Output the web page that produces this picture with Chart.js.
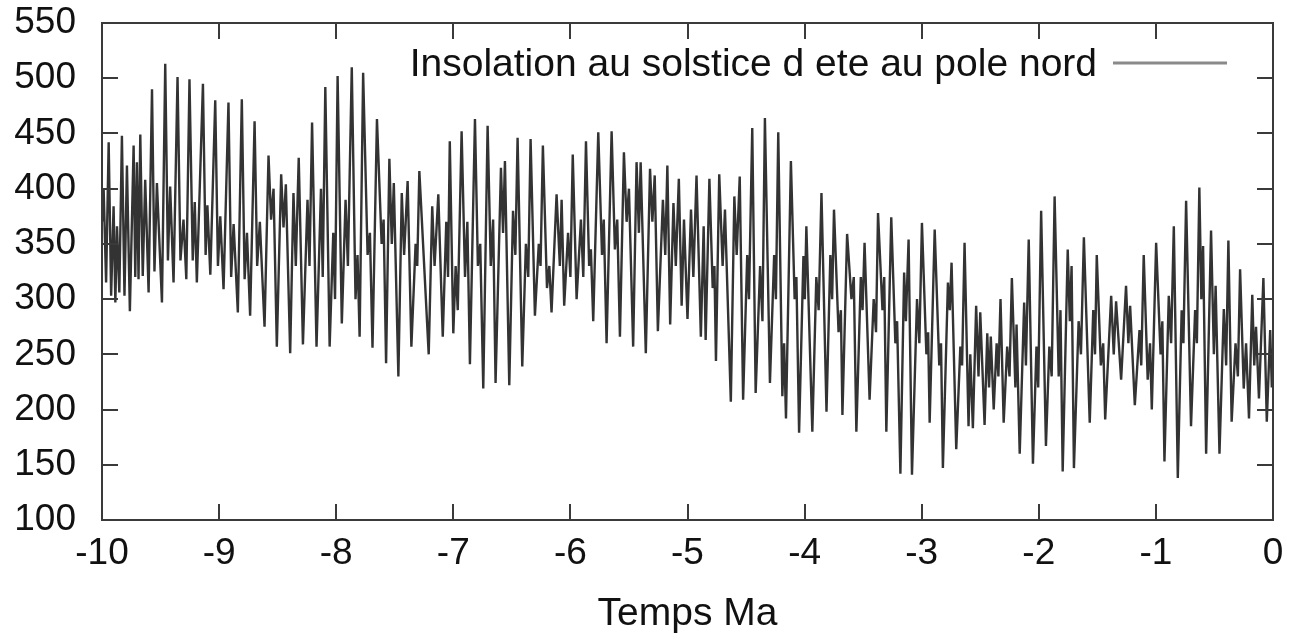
<!DOCTYPE html>
<html>
<head>
<meta charset="utf-8">
<script src="https://cdn.jsdelivr.net/npm/chart.js@4.4.1/dist/chart.umd.min.js"></script>
<style>
  html, body { margin: 0; padding: 0; background: #fff; }
  #wrap { width: 1290px; height: 638px; }
</style>
</head>
<body>
<div id="wrap"><canvas id="insolChart" width="1290" height="638"></canvas></div>
<script>
// time (Ma) and insolation (W/m2)
const times = [
  -10.000, -9.986, -9.965, -9.943, -9.922, -9.901, -9.886, -9.872, -9.852, -9.830,
  -9.808, -9.787, -9.762, -9.730, -9.716, -9.702, -9.688, -9.673, -9.652, -9.631,
  -9.602, -9.573, -9.552, -9.531, -9.488, -9.460, -9.437, -9.418, -9.389, -9.355,
  -9.330, -9.304, -9.280, -9.253, -9.225, -9.208, -9.190, -9.138, -9.115, -9.100,
  -9.075, -9.033, -9.010, -8.990, -8.962, -8.920, -8.897, -8.876, -8.840, -8.806,
  -8.782, -8.762, -8.735, -8.697, -8.675, -8.652, -8.612, -8.578, -8.556, -8.535,
  -8.507, -8.470, -8.450, -8.430, -8.393, -8.365, -8.345, -8.320, -8.284, -8.245,
  -8.228, -8.206, -8.168, -8.130, -8.115, -8.093, -8.056, -8.025, -8.010, -7.988,
  -7.952, -7.920, -7.900, -7.867, -7.835, -7.818, -7.800, -7.770, -7.732, -7.712,
  -7.690, -7.652, -7.612, -7.595, -7.574, -7.546, -7.525, -7.508, -7.469, -7.440,
  -7.420, -7.390, -7.358, -7.322, -7.308, -7.290, -7.210, -7.180, -7.160, -7.128,
  -7.090, -7.060, -7.045, -7.030, -7.000, -6.980, -6.962, -6.929, -6.900, -6.880,
  -6.858, -6.815, -6.790, -6.770, -6.744, -6.707, -6.680, -6.660, -6.639, -6.593,
  -6.575, -6.559, -6.522, -6.490, -6.470, -6.451, -6.411, -6.380, -6.360, -6.340,
  -6.303, -6.270, -6.255, -6.235, -6.200, -6.180, -6.161, -6.118, -6.090, -6.075,
  -6.053, -6.020, -6.000, -5.980, -5.947, -5.910, -5.890, -5.867, -5.840, -5.825,
  -5.805, -5.762, -5.730, -5.715, -5.691, -5.648, -5.620, -5.600, -5.577, -5.543,
  -5.520, -5.500, -5.464, -5.435, -5.415, -5.400, -5.356, -5.320, -5.300, -5.280,
  -5.253, -5.210, -5.190, -5.172, -5.148, -5.120, -5.100, -5.074, -5.050, -5.030,
  -5.000, -4.970, -4.950, -4.923, -4.886, -4.862, -4.845, -4.813, -4.785, -4.770,
  -4.757, -4.729, -4.700, -4.680, -4.630, -4.600, -4.580, -4.554, -4.525, -4.490,
  -4.475, -4.447, -4.418, -4.380, -4.360, -4.339, -4.296, -4.260, -4.245, -4.225,
  -4.190, -4.175, -4.159, -4.117, -4.085, -4.070, -4.047, -4.010, -3.998, -3.985,
  -3.934, -3.900, -3.880, -3.856, -3.813, -3.780, -3.765, -3.749, -3.710, -3.690,
  -3.677, -3.637, -3.600, -3.580, -3.558, -3.520, -3.505, -3.488, -3.445, -3.410,
  -3.390, -3.373, -3.335, -3.320, -3.302, -3.260, -3.225, -3.210, -3.182, -3.150,
  -3.135, -3.112, -3.083, -3.040, -3.020, -2.998, -2.960, -2.945, -2.932, -2.889,
  -2.850, -2.835, -2.819, -2.776, -2.760, -2.745, -2.705, -2.670, -2.655, -2.634,
  -2.600, -2.585, -2.563, -2.535, -2.515, -2.500, -2.463, -2.440, -2.425, -2.410,
  -2.385, -2.360, -2.345, -2.327, -2.300, -2.270, -2.250, -2.230, -2.200, -2.190,
  -2.163, -2.125, -2.110, -2.086, -2.050, -2.020, -2.005, -1.980, -1.939, -1.910,
  -1.890, -1.865, -1.830, -1.815, -1.796, -1.753, -1.735, -1.720, -1.700, -1.660,
  -1.640, -1.615, -1.565, -1.535, -1.520, -1.505, -1.470, -1.450, -1.433, -1.382,
  -1.360, -1.340, -1.297, -1.255, -1.235, -1.220, -1.180, -1.140, -1.125, -1.104,
  -1.070, -1.050, -1.035, -0.998, -0.960, -0.945, -0.927, -0.890, -0.870, -0.847,
  -0.813, -0.780, -0.765, -0.742, -0.700, -0.665, -0.650, -0.629, -0.612, -0.597,
  -0.571, -0.529, -0.505, -0.490, -0.457, -0.420, -0.400, -0.381, -0.353, -0.320,
  -0.300, -0.281, -0.250, -0.230, -0.205, -0.177, -0.160, -0.145, -0.120, -0.082,
  -0.053, -0.024, -0.010, 0.000
];
const insolation = [
  370, 400, 315, 442, 303, 384, 297, 366, 306, 448,
  303, 421, 289, 439, 320, 424, 318, 449, 321, 408,
  306, 490, 325, 405, 297, 513, 335, 402, 315, 501,
  335, 372, 318, 499, 335, 388, 315, 495, 340, 385,
  322, 480, 330, 375, 309, 478, 320, 368, 288, 481,
  318, 360, 285, 461, 330, 370, 275, 430, 372, 400,
  257, 413, 365, 404, 251, 396, 330, 428, 259, 390,
  330, 460, 257, 400, 320, 492, 257, 360, 300, 502,
  278, 390, 330, 510, 300, 340, 266, 505, 340, 360,
  256, 463, 350, 372, 242, 427, 350, 405, 230, 396,
  340, 407, 257, 350, 330, 416, 250, 384, 330, 395,
  266, 370, 320, 443, 269, 330, 290, 452, 320, 370,
  241, 463, 330, 350, 219, 457, 330, 372, 224, 419,
  360, 425, 222, 380, 340, 446, 239, 350, 320, 445,
  285, 350, 330, 439, 310, 330, 288, 395, 330, 390,
  294, 360, 320, 431, 300, 372, 320, 443, 330, 345,
  280, 451, 340, 372, 260, 452, 345, 372, 266, 433,
  370, 400, 257, 424, 360, 424, 251, 418, 370, 412,
  271, 390, 340, 421, 277, 387, 330, 409, 294, 372,
  282, 381, 320, 412, 266, 366, 263, 409, 310, 330,
  244, 413, 330, 381, 207, 393, 340, 411, 209, 340,
  300, 455, 215, 330, 280, 464, 224, 340, 300, 451,
  212, 260, 192, 425, 300, 320, 179, 339, 300, 366,
  180, 320, 290, 396, 198, 340, 300, 381, 270, 290,
  195, 359, 300, 320, 180, 320, 290, 351, 209, 300,
  270, 378, 290, 320, 180, 374, 260, 280, 142, 324,
  280, 354, 141, 300, 260, 369, 250, 270, 188, 363,
  240, 260, 147, 315, 290, 333, 164, 257, 240, 351,
  185, 250, 183, 294, 230, 288, 186, 269, 220, 266,
  200, 260, 230, 300, 188, 257, 230, 319, 220, 277,
  160, 297, 240, 354, 151, 257, 220, 380, 167, 257,
  230, 393, 230, 290, 144, 345, 280, 330, 147, 280,
  250, 356, 188, 290, 250, 340, 240, 260, 191, 303,
  250, 298, 227, 312, 260, 294, 204, 272, 240, 340,
  227, 260, 200, 351, 250, 280, 153, 303, 260, 366,
  138, 290, 260, 389, 185, 290, 260, 401, 300, 348,
  160, 362, 250, 312, 160, 291, 240, 353, 189, 260,
  230, 327, 219, 260, 192, 304, 240, 275, 210, 319,
  189, 272, 220, 255
];
const xTicks = [-10, -9, -8, -7, -6, -5, -4, -3, -2, -1, 0];
const yTicks = [100, 150, 200, 250, 300, 350, 400, 450, 500, 550];
const seriesLabel = "Insolation au solstice d ete au pole nord";

const FONT = "'Liberation Sans', Arial, Helvetica, sans-serif";
const points = times.map((t, i) => ({ x: t, y: insolation[i] }));

// gnuplot-style frame with inward ticks on all sides, plus key in the top right
const gnuplotFrame = {
  id: "gnuplotFrame",
  afterDraw(chart) {
    const { ctx, chartArea: a, scales: { x, y } } = chart;
    const len = 16;
    ctx.save();
    ctx.strokeStyle = "#3a3a3a";
    ctx.lineWidth = 2;
    ctx.beginPath();
    xTicks.forEach(v => {
      const px = Math.round(x.getPixelForValue(v));
      ctx.moveTo(px, a.bottom); ctx.lineTo(px, a.bottom - len);
      ctx.moveTo(px, a.top); ctx.lineTo(px, a.top + len);
    });
    yTicks.forEach(v => {
      const py = Math.round(y.getPixelForValue(v));
      ctx.moveTo(a.left, py); ctx.lineTo(a.left + len, py);
      ctx.moveTo(a.right, py); ctx.lineTo(a.right - len, py);
    });
    ctx.stroke();
    ctx.strokeRect(a.left, a.top, a.right - a.left, a.bottom - a.top);

    // key
    ctx.fillStyle = "#111";
    ctx.font = "39px " + FONT;
    ctx.textAlign = "right";
    ctx.textBaseline = "middle";
    ctx.fillText(seriesLabel, a.right - 176, a.top + 42);
    ctx.strokeStyle = "#8a8a8a";
    ctx.lineWidth = 3;
    ctx.beginPath();
    ctx.moveTo(a.right - 160, a.top + 40);
    ctx.lineTo(a.right - 46, a.top + 40);
    ctx.stroke();
    ctx.restore();
  }
};

function noOverhang(s) {
  s.paddingTop = 0;
  s.paddingBottom = 0;
  s.paddingLeft = 0;
  s.paddingRight = 0;
}

new Chart(document.getElementById("insolChart"), {
  type: "line",
  data: {
    datasets: [{
      label: seriesLabel,
      data: points,
      borderColor: "#333",
      borderWidth: 2.4,
      pointRadius: 0,
      tension: 0,
      fill: false
    }]
  },
  options: {
    responsive: false,
    animation: false,
    layout: { padding: { top: 23, right: 17, left: 0, bottom: 0 } },
    plugins: {
      legend: { display: false },
      tooltip: { enabled: false }
    },
    scales: {
      x: {
        type: "linear",
        min: -10,
        max: 0,
        afterBuildTicks: s => { s.ticks = xTicks.map(v => ({ value: v })); },
        afterFit: s => { s.height = 118; noOverhang(s); },
        grid: { display: false, drawTicks: false },
        border: { display: false },
        ticks: {
          color: "#111",
          font: { family: FONT, size: 37 },
          padding: 12,
          maxRotation: 0
        },
        title: {
          display: true,
          text: "Temps Ma",
          color: "#111",
          font: { family: FONT, size: 39 },
          padding: { top: 0, bottom: 0 }
        }
      },
      y: {
        min: 100,
        max: 550,
        afterBuildTicks: s => { s.ticks = yTicks.map(v => ({ value: v })); },
        afterFit: s => { s.width = 102; noOverhang(s); },
        grid: { display: false, drawTicks: false },
        border: { display: false },
        ticks: {
          color: "#111",
          font: { family: FONT, size: 37 },
          padding: 26
        }
      }
    }
  },
  plugins: [gnuplotFrame]
});
</script>
</body>
</html>
